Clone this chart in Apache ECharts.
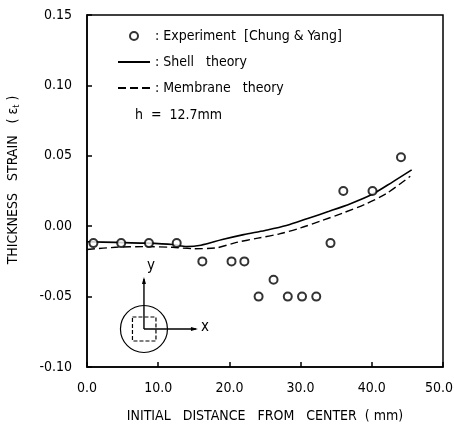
<!DOCTYPE html>
<html>
<head>
<meta charset="utf-8">
<script src="https://cdn.jsdelivr.net/npm/echarts@6/dist/echarts.min.js"></script>
<style>
  html, body { margin: 0; padding: 0; background: #fff; }
  #chart { width: 454px; height: 425px; }
</style>
</head>
<body>
<div id="chart"></div>
<script>
// experiment points [Chung & Yang]
const expX = [0.9, 4.8, 8.7, 12.6, 16.2, 20.3, 22.1, 24.1, 26.2, 28.2, 30.2, 32.2, 34.2, 36.0, 40.1, 44.1]
const expY = [-0.012, -0.012, -0.012, -0.012, -0.025, -0.025, -0.025, -0.050, -0.038, -0.050, -0.050, -0.050, -0.012, 0.025, 0.025, 0.049]

// shell theory (solid)
const shellX = [0, 4, 8, 12, 14, 16, 19, 22, 25, 28, 31, 34, 37, 40, 43, 45.6]
const shellY = [-0.011, -0.0115, -0.012, -0.013, -0.0145, -0.0135, -0.0095, -0.006, -0.003, 0.0005, 0.0055, 0.0106, 0.016, 0.0225, 0.0317, 0.040]

// membrane theory (dashed)
const membX = [0, 4, 8, 12, 15, 18, 21, 24, 27, 30, 33, 36, 39, 42, 45.4]
const membY = [-0.0165, -0.015, -0.0145, -0.015, -0.016, -0.0155, -0.0115, -0.0085, -0.0055, -0.0012, 0.004, 0.0095, 0.0155, 0.023, 0.0355]

const xTicks = ['0.0', '10.0', '20.0', '30.0', '40.0', '50.0']
const yTicks = ['-0.10', '-0.05', '0.00', '0.05', '0.10', '0.15']

const legendText = {
  exp: ': Experiment  [Chung & Yang]',
  shell: ': Shell   theory',
  memb: ': Membrane   theory',
}

const FONT = "'DejaVu Sans Condensed', 'Liberation Sans Narrow', sans-serif"
const zip = (xs, ys) => xs.map((x, i) => [x, ys[i]])

const chart = echarts.init(document.getElementById('chart'), null, { renderer: 'canvas' })

const option = {
  animation: false,
  backgroundColor: '#fff',
  textStyle: { fontFamily: FONT, color: '#000' },
  grid: {
    left: 87, right: 11, top: 15, bottom: 58,
    outerBoundsMode: 'none',
    show: true, borderColor: '#000', borderWidth: 1.5,
  },
  legend: {
    orient: 'vertical',
    left: 112, top: 18,
    itemWidth: 32, itemHeight: 8, itemGap: 0,
    data: [
      { name: 'exp' },
      { name: 'shell', itemStyle: { opacity: 0 } },
      { name: 'memb', itemStyle: { opacity: 0 } },
    ],
    formatter: (name) => legendText[name],
    textStyle: { fontFamily: FONT, fontSize: 14, color: '#000', lineHeight: 26 },
  },
  xAxis: {
    type: 'value', min: 0, max: 50, interval: 10,
    name: 'INITIAL   DISTANCE   FROM   CENTER  ( mm)',
    nameLocation: 'middle', nameGap: 42,
    nameTextStyle: { fontFamily: FONT, fontSize: 14, color: '#000' },
    axisLine: { onZero: false, lineStyle: { color: '#000', width: 1.5 } },
    axisTick: { inside: true, length: 5, lineStyle: { color: '#000', width: 1.5 } },
    axisLabel: {
      color: '#000', fontSize: 14, margin: 14,
      // last label pulled in a little so it stays on the page
      formatter: (v) => {
        const i = Math.round(v / 10)
        return i === xTicks.length - 1 ? `{m|${xTicks[i]}}` : xTicks[i]
      },
      rich: { m: { fontFamily: FONT, fontSize: 14, color: '#000', padding: [0, 8, 0, 0] } },
    },
    splitLine: { show: false },
  },
  yAxis: {
    type: 'value', min: -0.1, max: 0.15, interval: 0.05,
    name: '{a|THICKNESS   STRAIN   ( ε}{s|t}{a| )}',
    nameLocation: 'middle', nameGap: 66, nameRotate: 90,
    nameTextStyle: {
      padding: [0, 0, 0, 22],
      rich: {
        a: { fontFamily: FONT, fontSize: 14, color: '#000' },
        s: { fontFamily: FONT, fontSize: 9, color: '#000', verticalAlign: 'bottom', padding: [6, 0, 0, 0] },
      },
    },
    axisLine: { onZero: false, lineStyle: { color: '#000', width: 1.5 } },
    axisTick: { inside: true, length: 5, lineStyle: { color: '#000', width: 1.5 } },
    axisLabel: {
      color: '#000', fontSize: 14, margin: 15,
      formatter: (v) => yTicks[Math.round((v + 0.1) / 0.05)],
    },
    splitLine: { show: false },
  },
  series: [
    {
      name: 'exp', type: 'scatter',
      data: zip(expX, expY),
      symbol: 'emptyCircle', symbolSize: 8,
      itemStyle: { color: '#000', borderColor: '#000', borderWidth: 1.2 },
      z: 3,
    },
    {
      name: 'shell', type: 'line',
      data: zip(shellX, shellY),
      symbol: 'none', smooth: 0.3,
      lineStyle: { color: '#000', width: 1.6 },
      itemStyle: { color: '#000' },
    },
    {
      name: 'memb', type: 'line',
      data: zip(membX, membY),
      symbol: 'none', smooth: 0.3,
      lineStyle: { color: '#000', width: 1.4, type: [8, 4] },
      itemStyle: { color: '#000' },
    },
  ],
}

chart.setOption(option)

// inset sketch: circular blank with dashed square and x/y axes
const c = chart.convertToPixel({ gridIndex: 0 }, [8, -0.073])
const cx = c[0], cy = c[1]
chart.setOption({
  graphic: [
    {
      type: 'text', left: 135, top: 108,
      style: { text: 'h  =  12.7mm', font: `14px ${FONT}`, fill: '#000' },
    },
    {
      type: 'group', x: cx, y: cy, silent: true,
      children: [
        { type: 'circle', shape: { cx: 0, cy: 0, r: 23.5 }, style: { fill: 'none', stroke: '#000', lineWidth: 1.2 } },
        { type: 'rect', shape: { x: -11.5, y: -12, width: 23.5, height: 24 }, style: { fill: 'none', stroke: '#000', lineWidth: 1.2, lineDash: [4, 2] } },
        { type: 'line', shape: { x1: 0, y1: 0, x2: 0, y2: -50 }, style: { stroke: '#000', lineWidth: 1.4 } },
        { type: 'polygon', shape: { points: [[0, -52], [-2, -45], [2, -45]] }, style: { fill: '#000' } },
        { type: 'line', shape: { x1: 0, y1: 0, x2: 52, y2: 0 }, style: { stroke: '#000', lineWidth: 1.4 } },
        { type: 'polygon', shape: { points: [[54, 0], [47, -2], [47, 2]] }, style: { fill: '#000' } },
        { type: 'text', x: 3, y: -70, style: { text: 'y', font: `15px ${FONT}`, fill: '#000' } },
        { type: 'text', x: 57, y: -9, style: { text: 'x', font: `15px ${FONT}`, fill: '#000' } },
      ],
    },
  ],
})
</script>
</body>
</html>
